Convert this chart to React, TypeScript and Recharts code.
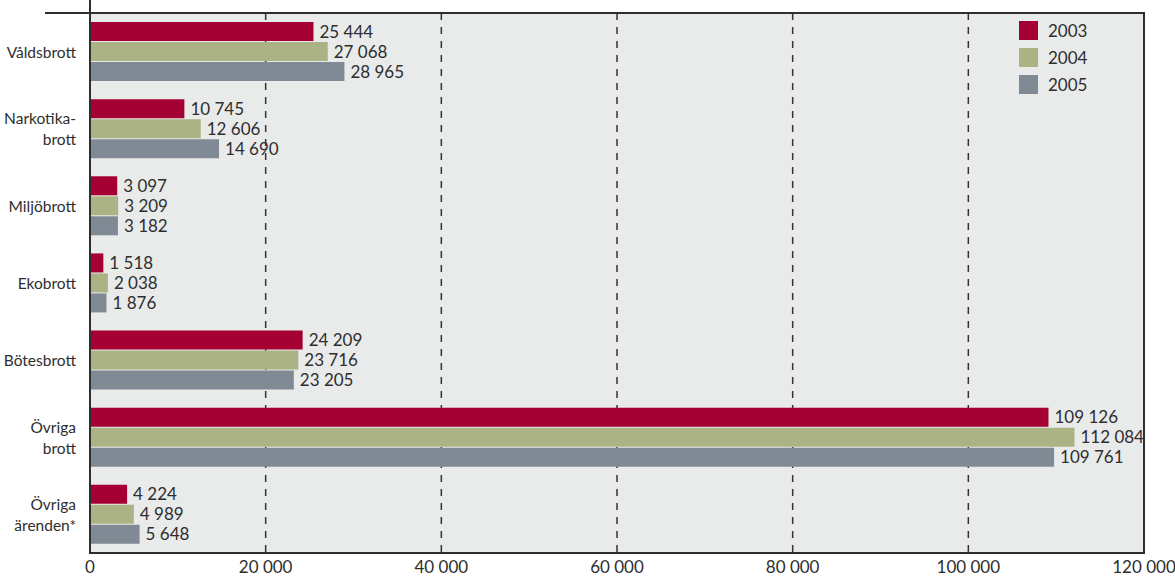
import { BarChart, Bar, XAxis, YAxis, CartesianGrid, LabelList, ReferenceArea } from 'recharts'

const categories = ['Våldsbrott', 'Narkotika-\nbrott', 'Miljöbrott', 'Ekobrott', 'Bötesbrott', 'Övriga\nbrott', 'Övriga\närenden*']
const values2003 = [25444, 10745, 3097, 1518, 24209, 109126, 4224]
const values2004 = [27068, 12606, 3209, 2038, 23716, 112084, 4989]
const values2005 = [28965, 14690, 3182, 1876, 23205, 109761, 5648]
const xTicks = [0, 20000, 40000, 60000, 80000, 100000, 120000]

const series = [
  { key: 'y2003', name: '2003', color: '#a50034' },
  { key: 'y2004', name: '2004', color: '#abb283' },
  { key: 'y2005', name: '2005', color: '#808a94' },
]

const data = categories.map((cat, i) => ({
  cat,
  y2003: values2003[i],
  y2004: values2004[i],
  y2005: values2005[i],
}))

const FONT = 'Lato, sans-serif'
const INK = '#2e2e2e'
const fmt = (v: any) => String(v).replace(/\B(?=(\d{3})+(?!\d))/g, ' ')

function CategoryTick({ x, y, payload }: any) {
  const lines = String(payload.value).split('\n')
  const start = y - ((lines.length - 1) * 21) / 2
  return (
    <text x={x - 6} y={start} textAnchor="end" dominantBaseline="central" fontFamily={FONT} fontSize={15.5} fill={INK}>
      {lines.map((l, i) => (
        <tspan key={i} x={x - 6} y={start + i * 21}>{l}</tspan>
      ))}
    </text>
  )
}

export default function App() {
  return (
    <div style={{ position: 'absolute', left: 0, top: 0, width: 1175, height: 576, background: '#fff' }}>
      <BarChart
        width={1175}
        height={576}
        data={data}
        layout="vertical"
        margin={{ top: 13, right: 31, bottom: 0, left: 0 }}
        barSize={19}
        barGap={1}
      >
        <CartesianGrid horizontal={false} fill="#e9eaea" fillOpacity={1} stroke="#333" strokeWidth={1.5} strokeDasharray="7 7" />
        <ReferenceArea x1={0} x2={120000} fill="none" stroke={INK} strokeWidth={2} />
        <XAxis
          type="number"
          domain={[0, 120000]}
          ticks={xTicks}
          tickFormatter={fmt}
          tickLine={false}
          axisLine={{ stroke: INK, strokeWidth: 2 }}
          height={23}
          tick={{ fontFamily: FONT, fontSize: 17, fill: INK }}
          interval={0}
        />
        <YAxis
          type="category"
          dataKey="cat"
          width={90}
          tickLine={false}
          axisLine={{ stroke: INK, strokeWidth: 2 }}
          tick={<CategoryTick />}
          interval={0}
        />
        {series.map(s => (
          <Bar key={s.key} dataKey={s.key} name={s.name} fill={s.color} isAnimationActive={false}>
            <LabelList dataKey={s.key} position="right" offset={6} formatter={fmt} style={{ fontFamily: FONT, fontSize: 17, fill: INK }} />
          </Bar>
        ))}
      </BarChart>
      {/* top rule extending left of the plot, and axis stub above it */}
      <div style={{ position: 'absolute', left: 45, top: 12, width: 1100, height: 2, background: INK }} />
      <div style={{ position: 'absolute', left: 89, top: 0, width: 2, height: 14, background: INK }} />
      {/* legend */}
      <div style={{ position: 'absolute', left: 1019, top: 17, fontFamily: FONT, fontSize: 17, color: INK }}>
        {series.map(s => (
          <div key={s.key} style={{ display: 'flex', alignItems: 'center', height: 27 }}>
            <span style={{ width: 19, height: 19, background: s.color, display: 'inline-block', marginRight: 10 }} />
            {s.name}
          </div>
        ))}
      </div>
    </div>
  )
}
